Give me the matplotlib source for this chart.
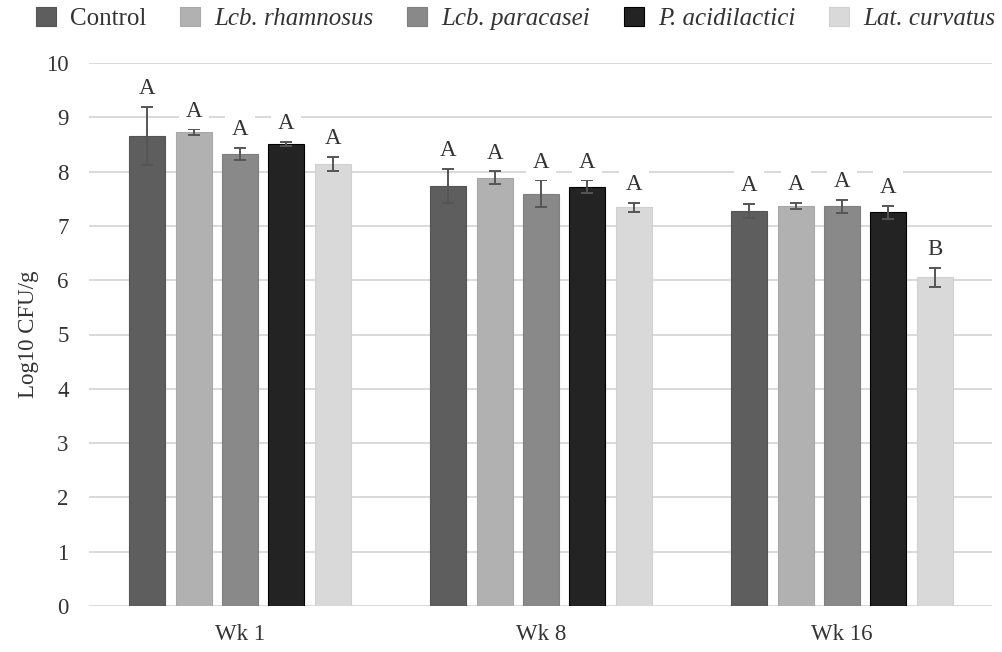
import numpy as np
import matplotlib
matplotlib.use("Agg")
import matplotlib.pyplot as plt

weeks = ["Wk 1", "Wk 8", "Wk 16"]
series = ["Control", "Lcb. rhamnosus", "Lcb. paracasei", "P. acidilactici", "Lat. curvatus"]
italic = [False, True, True, True, True]

control = [8.66, 7.74, 7.28]
rhamnosus = [8.73, 7.89, 7.37]
paracasei = [8.33, 7.59, 7.36]
acidilactici = [8.51, 7.72, 7.25]
curvatus = [8.14, 7.34, 6.05]

control_err = [0.53, 0.31, 0.13]
rhamnosus_err = [0.05, 0.12, 0.06]
paracasei_err = [0.11, 0.25, 0.12]
acidilactici_err = [0.04, 0.12, 0.12]
curvatus_err = [0.13, 0.09, 0.18]

control_lbl = ["A", "A", "A"]
rhamnosus_lbl = ["A", "A", "A"]
paracasei_lbl = ["A", "A", "A"]
acidilactici_lbl = ["A", "A", "A"]
curvatus_lbl = ["A", "A", "B"]

yticks = [0, 1, 2, 3, 4, 5, 6, 7, 8, 9, 10]

values = [control, rhamnosus, paracasei, acidilactici, curvatus]
errors = [control_err, rhamnosus_err, paracasei_err, acidilactici_err, curvatus_err]
labels = [control_lbl, rhamnosus_lbl, paracasei_lbl, acidilactici_lbl, curvatus_lbl]
colors = ["#5e5e5e", "#b1b1b1", "#898989", "#232323", "#d9d9d9"]
edges = ["#555555", "#a8a8a8", "#7f7f7f", "#000000", "#d0d0d0"]

FONT = "Liberation Serif"
plt.rcParams["font.family"] = [FONT, "DejaVu Serif"]

fig = plt.figure(figsize=(10.03, 6.52), dpi=100)
ax = fig.add_axes([89.5 / 1003, 46 / 652, 903 / 1003, 543 / 652])

x = np.arange(len(weeks))
step = 0.154
width = 0.12
handles = []
for i, (vals, errs, lbls) in enumerate(zip(values, errors, labels)):
    pos = x + (i - 2) * step
    b = ax.bar(pos, vals, width, color=colors[i], edgecolor=edges[i], linewidth=0.8,
               zorder=2, label=series[i])
    handles.append(b)
    ax.errorbar(pos, vals, yerr=errs, fmt="none", ecolor="#555555", elinewidth=1.4,
                capsize=4, capthick=1.4, zorder=3)
    for p, v, e, l in zip(pos, vals, errs, lbls):
        ax.annotate(l, (p, v + e), xytext=(0, 9), textcoords="offset points",
                    ha="center", va="baseline", fontsize=16.5, color="#333333", zorder=4,
                    family=FONT,
                    bbox=dict(boxstyle="square,pad=0.3", fc="white", ec="none"))

ax.set_xlim(-0.5, 2.5)
ax.set_ylim(0, 10)
ax.set_yticks(yticks)
ax.set_xticks(x)
ax.set_xticklabels(weeks)
ax.grid(axis="y", color="#d9d9d9", linewidth=1.4, zorder=0)
ax.set_axisbelow(True)
for s in ax.spines.values():
    s.set_visible(False)
ax.tick_params(axis="y", length=0, pad=15, labelsize=16.5, labelcolor="#333333")
ax.tick_params(axis="x", length=0, pad=13, labelsize=16.5, labelcolor="#333333")
ax.set_ylabel("Log10 CFU/g", fontsize=16.5, color="#333333", labelpad=5, family=FONT)

leg = ax.legend(handles=handles, loc="center", bbox_to_anchor=(0.514, 0.972),
                bbox_transform=fig.transFigure, ncol=5, frameon=False,
                prop=dict(family=FONT, size=18),
                handlelength=0.8, handleheight=0.8, handletextpad=0.56,
                columnspacing=1.36, borderpad=0, borderaxespad=0)
for t, it in zip(leg.get_texts(), italic):
    t.set_color("#333333")
    t.set_family(FONT)
    if it:
        t.set_style("italic")

fig.savefig("out.png", dpi=100)
